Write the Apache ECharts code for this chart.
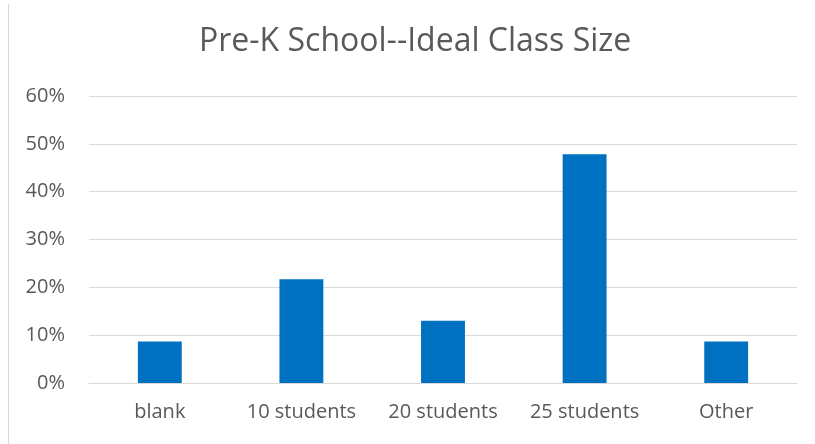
<!DOCTYPE html>
<html>
<head>
<meta charset="utf-8">
<style>
html,body{margin:0;padding:0;background:#fff;}
#chart{width:815px;height:444px;}
</style>
<script src="https://cdn.jsdelivr.net/npm/echarts@6/dist/echarts.min.js"></script>
</head>
<body>
<div id="chart"></div>
<script>
const categories = ['blank', '10 students', '20 students', '25 students', 'Other'];
const values = [0.087, 0.217, 0.13, 0.478, 0.087];
const titleText = 'Pre-K School--Ideal Class Size';

const chart = echarts.init(document.getElementById('chart'), null, {renderer: 'canvas'});
chart.setOption({
  animation: false,
  backgroundColor: '#ffffff',
  title: {
    text: titleText,
    left: 199,
    top: 26,
    padding: 0,
    textStyle: {fontFamily: 'Open Sans', fontSize: 32, fontWeight: 'normal', color: '#595959'}
  },
  graphic: [{
    type: 'line',
    shape: {x1: 8.5, y1: 4, x2: 8.5, y2: 444},
    style: {stroke: '#d9d9d9', lineWidth: 1}
  }],
  grid: {left: 89, right: 18, top: 96, bottom: 61},
  xAxis: {
    type: 'category',
    data: categories,
    axisLine: {show: true, lineStyle: {color: '#d9d9d9', width: 1}},
    axisTick: {show: false},
    axisLabel: {fontFamily: 'Open Sans', fontSize: 20, color: '#595959', margin: 19, interval: 0}
  },
  yAxis: {
    type: 'value',
    min: 0, max: 0.6, interval: 0.1,
    axisLine: {show: false},
    axisTick: {show: false},
    splitLine: {lineStyle: {color: '#d9d9d9', width: 1}},
    axisLabel: {
      fontFamily: 'Open Sans', fontSize: 20, color: '#595959', margin: 24,
      formatter: v => Math.round(v * 100) + '%'
    }
  },
  series: [{
    type: 'bar',
    data: values,
    barWidth: '31%',
    itemStyle: {color: '#0070c0'}
  }]
});
</script>
</body>
</html>
